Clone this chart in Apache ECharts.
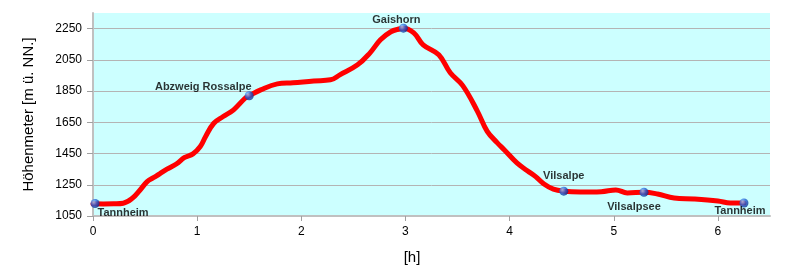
<!DOCTYPE html>
<html>
<head>
<meta charset="utf-8">
<script src="https://cdn.jsdelivr.net/npm/echarts@6/dist/echarts.min.js"></script>
<style>html,body{margin:0;padding:0;background:#fff;}#c{width:790px;height:278px;}</style>
</head>
<body>
<div id="c"></div>
<script>
const hours = [0, 0.1, 0.2, 0.29, 0.38, 0.45, 0.52, 0.58, 0.64, 0.71, 0.8, 0.88, 0.96, 1.03, 1.08, 1.16, 1.25, 1.35, 1.46, 1.5, 1.61, 1.77, 1.92, 2.12, 2.28, 2.37, 2.54, 2.66, 2.76, 2.86, 2.95, 2.98, 3.08, 3.17, 3.32, 3.43, 3.55, 3.69, 3.785, 3.88, 3.95, 4.07, 4.17, 4.25, 4.33, 4.42, 4.52, 4.68, 4.88, 5.02, 5.13, 5.29, 5.42, 5.58, 5.77, 6.0, 6.12, 6.25];
const heights = [1128, 1127, 1128, 1132, 1165, 1215, 1270, 1295, 1320, 1350, 1383, 1425, 1448, 1495, 1558, 1644, 1687, 1730, 1804, 1820, 1858, 1896, 1903, 1915, 1922, 1954, 2018, 2095, 2178, 2230, 2249, 2253, 2223, 2146, 2082, 1967, 1885, 1722, 1592, 1520, 1473, 1390, 1340, 1302, 1255, 1222, 1209, 1204, 1206, 1217, 1198, 1202, 1191, 1165, 1159, 1146, 1133, 1133];
const wayHours = [0.02, 1.5, 2.98, 4.52, 5.29, 6.25];
const wayHeights = [1130, 1820, 2253, 1209, 1202, 1133];
const wayNames = ['Tannheim', 'Abzweig Rossalpe', 'Gaishorn', 'Vilsalpe', 'Vilsalpsee', 'Tannheim'];
const xTicks = [0, 1, 2, 3, 4, 5, 6];
const yTicks = [1050, 1250, 1450, 1650, 1850, 2050, 2250];

// label placement (layout only)
const labelOffsets = [[28, 9], [-46, -9], [-7, -8], [0, -15], [-10, 15], [-4, 8]];

const chart = echarts.init(document.getElementById('c'));
const ballColor = {
  type: 'radial', x: 0.35, y: 0.35, r: 0.7,
  colorStops: [{offset: 0, color: '#9fd0ff'}, {offset: 0.5, color: '#2266dd'}, {offset: 1, color: '#0a2a8a'}]
};
chart.setOption({
  animation: false,
  grid: {left: 93, right: 20, top: 13, bottom: 62, show: true, backgroundColor: '#ccffff', borderWidth: 0},
  xAxis: {
    type: 'value', min: 0, max: 6.5, interval: 1,
    name: '[h]', nameLocation: 'middle', nameGap: 34,
    nameTextStyle: {fontFamily: 'Liberation Sans', fontSize: 15, color: '#000', padding: [0, 39, 0, 0]},
    axisLine: {show: true, lineStyle: {color: '#c0c0c0', width: 2}},
    axisTick: {show: true, length: 5, lineStyle: {color: '#a0a0a0'}, customValues: xTicks},
    axisLabel: {fontFamily: 'Liberation Sans', fontSize: 12, color: '#000', margin: 10, customValues: xTicks, formatter: v => String(v)},
    splitLine: {show: false}
  },
  yAxis: {
    type: 'value', min: 1050, max: 2350, interval: 200,
    name: 'Höhenmeter [m ü. NN.]', nameLocation: 'middle', nameGap: 57,
    nameTextStyle: {fontFamily: 'Liberation Sans', fontSize: 15, color: '#000'},
    axisLine: {show: true, lineStyle: {color: '#c0c0c0', width: 2}},
    axisTick: {show: true, length: 6, lineStyle: {color: '#a0a0a0'}, customValues: yTicks},
    axisLabel: {fontFamily: 'Liberation Sans', fontSize: 12, color: '#000', margin: 11, customValues: yTicks, formatter: v => String(v)},
    splitLine: {show: true, lineStyle: {color: '#b4b4b4', width: 1}}
  },
  series: [
    {
      type: 'line', smooth: 0.4, showSymbol: false,
      data: hours.map((h, i) => [h, heights[i]]),
      lineStyle: {color: '#ff0000', width: 5, cap: 'round', join: 'round'},
      z: 2
    },
    {
      type: 'scatter', symbolSize: 9,
      itemStyle: {color: ballColor},
      data: wayHours.map((h, i) => ({
        value: [h, wayHeights[i]],
        label: {
          show: true, formatter: wayNames[i], position: 'inside', offset: labelOffsets[i],
          fontFamily: 'Liberation Sans', fontWeight: 'bold', fontSize: 11, color: '#000'
        }
      })),
      z: 3
    }
  ]
});
</script>
</body>
</html>
